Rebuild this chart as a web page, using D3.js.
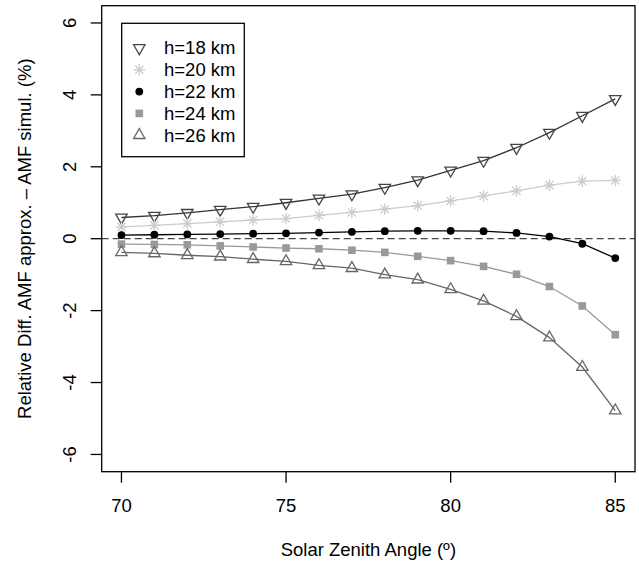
<!DOCTYPE html>
<html>
<head>
<meta charset="utf-8">
<script src="https://cdn.jsdelivr.net/npm/d3@7"></script>
<style>
  body { margin: 0; background: #fff; }
  svg text { font-family: "Liberation Sans", Arial, Helvetica, sans-serif; }
</style>
</head>
<body>
<div id="chart"></div>
<script>
// Solar zenith angle (deg) and relative differences (%) per layer height
const sza = [70, 71, 72, 73, 74, 75, 76, 77, 78, 79, 80, 81, 82, 83, 84, 85];
const h18 = [0.59, 0.64, 0.72, 0.81, 0.89, 1.00, 1.12, 1.24, 1.42, 1.63, 1.90, 2.17, 2.53, 2.95, 3.42, 3.89];
const h20 = [0.33, 0.37, 0.42, 0.47, 0.52, 0.56, 0.65, 0.73, 0.82, 0.92, 1.05, 1.19, 1.33, 1.49, 1.60, 1.62];
const h22 = [0.10, 0.11, 0.12, 0.13, 0.14, 0.15, 0.17, 0.19, 0.21, 0.22, 0.22, 0.21, 0.16, 0.06, -0.14, -0.54];
const h24 = [-0.15, -0.16, -0.17, -0.20, -0.23, -0.26, -0.28, -0.32, -0.38, -0.49, -0.61, -0.77, -0.99, -1.33, -1.87, -2.67];
const h26 = [-0.38, -0.41, -0.46, -0.50, -0.57, -0.63, -0.74, -0.82, -1.00, -1.14, -1.41, -1.73, -2.16, -2.75, -3.57, -4.78];

const seriesNames = ['h=18 km', 'h=20 km', 'h=22 km', 'h=24 km', 'h=26 km'];
const xTicks = [70, 75, 80, 85];
const yTicks = [-6, -4, -2, 0, 2, 4, 6];

const series = [
  { name: seriesNames[0], values: h18, line: '#333', col: '#444', shape: 'down' },
  { name: seriesNames[1], values: h20, line: '#ccc', col: '#ccc', shape: 'star' },
  { name: seriesNames[2], values: h22, line: '#000', col: '#000', shape: 'circle' },
  { name: seriesNames[3], values: h24, line: '#999', col: '#999', shape: 'square' },
  { name: seriesNames[4], values: h26, line: '#666', col: '#666', shape: 'up' }
];

const width = 639, height = 566;
const box = { left: 101.7, right: 635, top: 5.7, bottom: 471.7 };
const fs = 18.5;

const svg = d3.select('#chart').append('svg')
  .attr('width', width)
  .attr('height', height);

const x = d3.scaleLinear().domain([69.4, 85.6]).range([box.left, box.right]);
const y = d3.scaleLinear().domain([-6.48, 6.48]).range([box.bottom, box.top]);

// draw one marker of given shape at (cx, cy)
function marker(g, shape, cx, cy, col) {
  const r = 6.6;
  if (shape === 'down' || shape === 'up') {
    const s = shape === 'up' ? 1 : -1;
    const xc = r * 0.866;
    const pts = [[cx, cy - s * r], [cx + xc, cy + s * r / 2], [cx - xc, cy + s * r / 2]];
    g.append('path')
      .attr('d', 'M' + pts.map(p => p.join(',')).join('L') + 'Z')
      .attr('fill', 'none')
      .attr('stroke', col)
      .attr('stroke-width', 1.3);
  } else if (shape === 'star') {
    const a = 5.8, b = 4.1;
    g.append('path')
      .attr('d', `M${cx - a},${cy}L${cx + a},${cy}M${cx},${cy - a}L${cx},${cy + a}` +
        `M${cx - b},${cy - b}L${cx + b},${cy + b}M${cx - b},${cy + b}L${cx + b},${cy - b}`)
      .attr('stroke', col)
      .attr('stroke-width', 1.3)
      .attr('fill', 'none');
  } else if (shape === 'circle') {
    g.append('circle').attr('cx', cx).attr('cy', cy).attr('r', 3.9).attr('fill', col);
  } else if (shape === 'square') {
    g.append('rect').attr('x', cx - 3.8).attr('y', cy - 3.8)
      .attr('width', 7.6).attr('height', 7.6).attr('fill', col);
  }
}

// zero reference line
svg.append('line')
  .attr('x1', box.left).attr('x2', box.right)
  .attr('y1', y(0)).attr('y2', y(0))
  .attr('stroke', '#444')
  .attr('stroke-width', 1.3)
  .attr('stroke-dasharray', '7,4');

// series lines and points
const line = d3.line().x((d, i) => x(sza[i])).y(d => y(d));
series.forEach(s => {
  svg.append('path')
    .datum(s.values)
    .attr('d', line)
    .attr('fill', 'none')
    .attr('stroke', s.line)
    .attr('stroke-width', 1.3);
  const g = svg.append('g');
  s.values.forEach((v, i) => marker(g, s.shape, x(sza[i]), y(v), s.col));
});

// frame
svg.append('rect')
  .attr('x', box.left).attr('y', box.top)
  .attr('width', box.right - box.left).attr('height', box.bottom - box.top)
  .attr('fill', 'none').attr('stroke', '#000').attr('stroke-width', 1.3);

// x axis
const xAxis = svg.append('g');
xAxis.selectAll('line').data(xTicks).join('line')
  .attr('x1', d => x(d)).attr('x2', d => x(d))
  .attr('y1', box.bottom).attr('y2', box.bottom + 11)
  .attr('stroke', '#000').attr('stroke-width', 1.3);
xAxis.selectAll('text').data(xTicks).join('text')
  .attr('x', d => x(d)).attr('y', 512)
  .attr('text-anchor', 'middle')
  .attr('font-size', fs)
  .text(d => d);

// y axis
const yAxis = svg.append('g');
yAxis.selectAll('line').data(yTicks).join('line')
  .attr('x1', box.left).attr('x2', box.left - 11)
  .attr('y1', d => y(d)).attr('y2', d => y(d))
  .attr('stroke', '#000').attr('stroke-width', 1.3);
yAxis.selectAll('text').data(yTicks).join('text')
  .attr('transform', d => `translate(76,${y(d)}) rotate(-90)`)
  .attr('text-anchor', 'middle')
  .attr('font-size', fs)
  .text(d => d < 0 ? '-' + Math.abs(d) : d);

// axis titles
svg.append('text')
  .attr('x', (box.left + box.right) / 2).attr('y', 556)
  .attr('text-anchor', 'middle')
  .attr('font-size', fs)
  .text('Solar Zenith Angle (º)');

svg.append('text')
  .attr('transform', `translate(31,${(box.top + box.bottom) / 2}) rotate(-90)`)
  .attr('text-anchor', 'middle')
  .attr('font-size', fs)
  .text('Relative Diff. AMF approx. – AMF simul. (%)');

// legend
const leg = svg.append('g');
leg.append('rect')
  .attr('x', 121.7).attr('y', 23.3)
  .attr('width', 122.6).attr('height', 133.4)
  .attr('fill', '#fff').attr('stroke', '#000').attr('stroke-width', 1.3);
series.forEach((s, i) => {
  const ry = 48 + i * 21.8;
  marker(leg, s.shape, 139.3, ry, s.col);
  leg.append('text')
    .attr('x', 164).attr('y', ry)
    .attr('dy', '0.35em')
    .attr('font-size', fs)
    .text(s.name);
});
</script>
</body>
</html>
